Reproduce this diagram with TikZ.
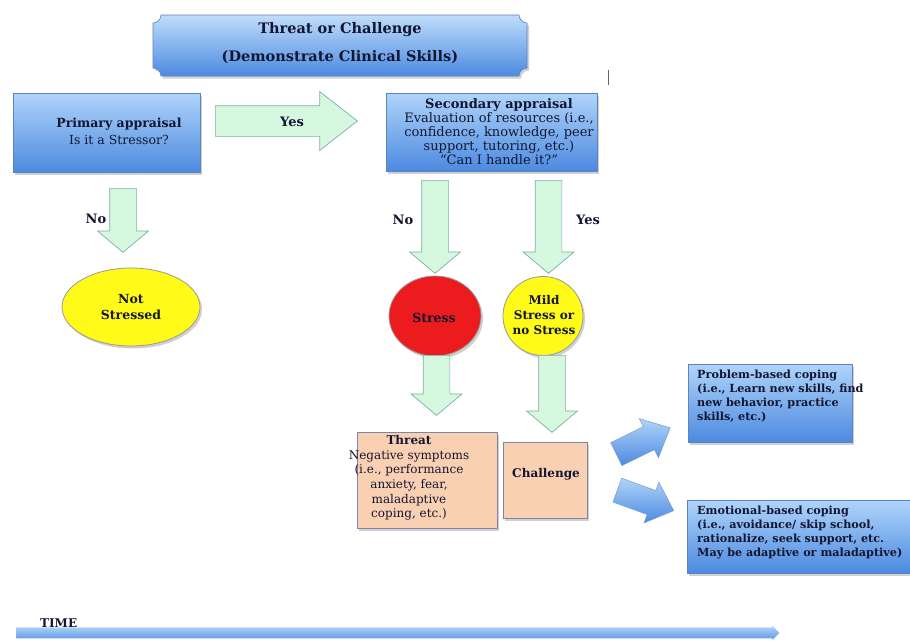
\documentclass[tikz,border=0pt]{standalone}
\usepackage{fontspec}
\setmainfont{DejaVu Serif}
\usetikzlibrary{shapes.geometric,shapes.arrows,shadows}
\definecolor{boxtop}{RGB}{176,212,250}
\definecolor{boxbot}{RGB}{76,138,224}
\definecolor{boxline}{RGB}{92,132,192}
\definecolor{grnfill}{RGB}{214,248,222}
\definecolor{grnline}{RGB}{122,176,168}
\definecolor{ylw}{RGB}{255,250,24}
\definecolor{rd}{RGB}{236,28,30}
\definecolor{peach}{RGB}{250,208,178}
\definecolor{peachline}{RGB}{122,136,166}
\definecolor{txt}{RGB}{18,22,48}
\begin{document}
\begin{tikzpicture}[x=1pt,y=-1pt,
  every node/.style={text=txt},
  shad/.style={drop shadow={shadow xshift=2pt,shadow yshift=-2.5pt,opacity=0.3,fill=black!60}},
  bluebox/.style={rectangle,draw=boxline,line width=0.6pt,top color=boxtop,bottom color=boxbot,shad,inner sep=0pt},
  peachbox/.style={rectangle,draw=peachline,line width=0.7pt,fill=peach,shad,inner sep=0pt},
  greenarrow/.style={single arrow,draw=grnline,fill=grnfill,line width=0.7pt,single arrow head indent=0pt},
  downarrow/.style={greenarrow,shape border rotate=270,anchor=tail,inner sep=13pt,single arrow head extend=12pt,single arrow tip angle=100},
  bluearrow/.style={single arrow,draw=boxline!80,line width=0.5pt,top color=boxtop,bottom color=boxbot,single arrow head indent=0pt,inner sep=12.5pt,single arrow head extend=9pt,single arrow tip angle=85,minimum height=60pt},
  oval/.style={ellipse,draw=black!40,line width=0.8pt,inner sep=0pt,shad},
  lbl/.style={font=\bfseries\fontsize{13}{14}\selectfont},
  body/.style={font=\fontsize{13}{14}\selectfont,align=center,inner sep=0pt},
]
\useasboundingbox (0,0) rectangle (910,640);
\fill[white] (0,0) rectangle (910,640);

% title banner (concave corners)
\path[draw=boxline,line width=0.6pt,top color=boxtop!80!white,bottom color=boxbot,shad]
  (161,15) -- (519,15) .. controls (519,19.4) and (522.6,23) .. (527,23)
  -- (527,68) .. controls (522.6,68) and (519,71.6) .. (519,76)
  -- (161,76) .. controls (161,71.6) and (157.4,68) .. (153,68)
  -- (153,23) .. controls (157.4,23) and (161,19.4) .. cycle;
\node[font=\bfseries\fontsize{14.5}{28}\selectfont,align=center] (title) at (340,43)
  {Threat or Challenge\\(Demonstrate Clinical Skills)};

% stray mark
\coordinate (marktop) at (608,70);
\coordinate (markbot) at (608,85);
\draw[black!60,line width=0.8pt] (marktop) -- (markbot);

% primary appraisal
\node[bluebox,minimum width=187pt,minimum height=79pt] (prim) at (106.5,132.5) {};
\node[body,font=\fontsize{12.5}{17}\selectfont] (primtext) at (119,131)
  {\textbf{Primary appraisal}\\Is it a Stressor?};

% yes arrow to secondary
\node[greenarrow,anchor=tail,inner sep=15pt,single arrow head extend=14pt,single arrow tip angle=76,
  minimum height=142pt] (yesarrow) at (215,121) {};
\node[lbl] (yeslbl) at (292,122) {Yes};

% secondary appraisal
\node[bluebox,minimum width=211pt,minimum height=78pt] (sec) at (491.5,132) {};
\node[body] (sectext) at (499,132)
  {\textbf{Secondary appraisal}\\Evaluation of resources (i.e.,\\confidence, knowledge, peer\\support, tutoring, etc.)\\“Can I handle it?”};

% primary -> not stressed
\node[downarrow,minimum height=64pt] (noarrow1) at (123,188) {};
\node[lbl] (nolbl1) at (96,219) {No};
\node[oval,fill=ylw,minimum width=138pt,minimum height=78pt] (notstr) at (131,307) {};
\node[lbl,align=center,font=\bfseries\fontsize{12.5}{16}\selectfont] (notstrtext) at (131,307) {Not\\Stressed};

% secondary -> stress / mild
\node[downarrow,minimum height=93pt] (noarrow2) at (435,180) {};
\node[lbl] (nolbl2) at (403,220) {No};
\node[downarrow,minimum height=93pt] (yesarrow2) at (548.5,180) {};
\node[lbl] (yeslbl2) at (588,220) {Yes};

\node[oval,fill=rd,minimum width=92pt,minimum height=80pt] (stress) at (435,316) {};
\node[lbl,font=\bfseries\fontsize{12.5}{14}\selectfont] (stresstext) at (434,318) {Stress};
\node[oval,fill=ylw,minimum width=80pt,minimum height=79pt] (mild) at (543,316) {};
\node[lbl,align=center,font=\bfseries\fontsize{12}{15}\selectfont] (mildtext) at (544,315) {Mild\\Stress or\\no Stress};

% stress -> threat, mild -> challenge
\node[downarrow,minimum height=60pt] (threatarrow) at (436.5,355) {};
\node[downarrow,minimum height=77pt] (challarrow) at (552,355) {};

\node[peachbox,minimum width=140pt,minimum height=96pt] (threat) at (427,480) {};
\node[body,font=\fontsize{12}{14.6}\selectfont] (threattext) at (409,478)
  {\textbf{Threat}\\Negative symptoms\\(i.e., performance\\anxiety, fear,\\maladaptive\\coping, etc.)};
\node[peachbox,minimum width=84pt,minimum height=76pt] (chall) at (545,480) {};
\node[lbl,font=\bfseries\fontsize{12}{14}\selectfont] (challtext) at (546,474) {Challenge};

% coping arrows
\node[bluearrow,rotate=26] (arrowprob) at (637,444) {};
\node[bluearrow,rotate=-20] (arrowemo) at (639,498) {};

% coping boxes
\node[bluebox,minimum width=164pt,minimum height=78pt] (prob) at (770,403) {};
\node[body,align=left,anchor=north west,font=\bfseries\fontsize{11.2}{14}\selectfont] (probtext) at (697,370)
  {Problem-based coping\\(i.e., Learn new skills, find\\new behavior, practice\\skills, etc.)};
\node[bluebox,minimum width=223pt,minimum height=73pt] (emo) at (798.5,536.5) {};
\node[body,align=left,anchor=north west,font=\bfseries\fontsize{11.2}{14}\selectfont] (emotext) at (697,506)
  {Emotional-based coping\\(i.e., avoidance/ skip school,\\rationalize, seek support, etc.\\May be adaptive or maladaptive)};

% time
\node[font=\bfseries\fontsize{12}{13}\selectfont,anchor=west,inner sep=0pt] (timelbl) at (40,623) {TIME};
\node[single arrow,anchor=tail,inner sep=5pt,single arrow head extend=1.5pt,single arrow head indent=0pt,
  single arrow tip angle=90,minimum height=763pt,draw=boxtop!70!boxbot,line width=0.4pt,
  top color=boxtop,bottom color=boxbot!90] (timeline) at (16,633) {};
\end{tikzpicture}
\end{document}
